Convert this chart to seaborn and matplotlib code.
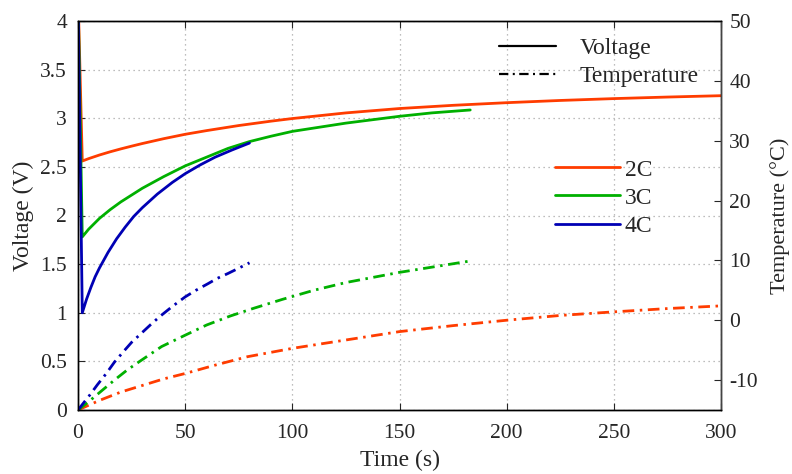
import numpy as np
import pandas as pd
import matplotlib
matplotlib.use('Agg')
import matplotlib.pyplot as plt
import seaborn as sns
from matplotlib.lines import Line2D
from matplotlib.ticker import FuncFormatter

# voltage curves (s, V)
t_v2 = [0, 2, 5, 10, 15, 20, 25, 30, 40, 50, 60, 75, 90, 100, 125, 150, 175, 200, 225, 250, 275, 300]
v_2c = [4.3, 2.56, 2.585, 2.622, 2.655, 2.685, 2.713, 2.74, 2.79, 2.835, 2.873, 2.925, 2.97,
        2.997, 3.055, 3.10, 3.133, 3.16, 3.183, 3.202, 3.218, 3.232]
t_v3 = [0, 2, 5, 10, 15, 20, 25, 30, 40, 50, 60, 70, 80, 90, 100, 125, 150, 165, 183]
v_3c = [4.3, 1.78, 1.86, 1.97, 2.06, 2.14, 2.21, 2.28, 2.40, 2.51, 2.60, 2.69, 2.76, 2.815,
        2.865, 2.95, 3.02, 3.055, 3.085]
t_v4 = [0, 2, 4, 6, 8, 10, 14, 18, 22, 26, 30, 37, 44, 50, 57, 64, 72, 80]
v_4c = [4.3, 1.0, 1.14, 1.26, 1.37, 1.46, 1.62, 1.76, 1.88, 1.99, 2.08, 2.22, 2.34, 2.43,
        2.52, 2.60, 2.675, 2.745]

# temperature curves (s, degC)
t_T2 = [0, 5, 10, 20, 30, 40, 50, 64, 79, 100, 125, 150, 175, 200, 225, 250, 275, 300]
T_2c = [-15, -14.2, -13.4, -12.0, -10.9, -9.8, -8.9, -7.5, -6.1, -4.7, -3.3, -1.9, -0.9,
        0.0, 0.8, 1.4, 1.95, 2.4]
t_T3 = [0, 5, 10, 17, 23, 29.5, 39, 50, 60, 71, 82, 95.5, 110, 125, 150, 183]
T_3c = [-15, -13.6, -12.1, -10.0, -8.3, -6.7, -4.4, -2.5, -0.8, 0.7, 2.0, 3.5, 5.0, 6.3,
        8.0, 9.9]
t_T4 = [0, 5.5, 9, 13.2, 17, 21.8, 25, 29.5, 34, 38.1, 44, 50, 55, 60.6, 65, 69.9, 75, 80]
T_4c = [-15, -12.5, -10.8, -8.9, -7.0, -5.0, -3.7, -2.2, -0.7, 0.6, 2.3, 3.9, 5.0, 6.1,
        7.0, 7.8, 8.7, 9.6]

rates = ['2C', '3C', '4C']
colors = ['#ff3c00', '#00b000', '#0000b4']

sns.set_style('ticks')
plt.rcParams['font.family'] = ['Liberation Serif', 'DejaVu Serif']
plt.rcParams['axes.unicode_minus'] = False

fs = 17
fig = plt.figure(figsize=(7.92, 4.74), dpi=100)
ax = fig.add_axes([78/792, 1-410/474, 643/792, 389/474])
ax2 = ax.twinx()

volt = [(t_v2, v_2c), (t_v3, v_3c), (t_v4, v_4c)]
temp = [(t_T2, T_2c), (t_T3, T_3c), (t_T4, T_4c)]
dashdot = (0, (4.2, 2.0, 0.9, 2.0))

for (tt, vv), c in zip(volt, colors):
    sns.lineplot(x=tt, y=vv, color=c, lw=2.0, ax=ax, errorbar=None, sort=False)
for (tt, TT), c in zip(temp, colors):
    sns.lineplot(x=tt, y=TT, color=c, lw=2.0, ax=ax2, errorbar=None, sort=False,
                 linestyle=dashdot)

ax.set_xlim(0, 300)
ax.set_ylim(0, 4)
ax2.set_ylim(-15, 50)
ax.set_xticks(np.arange(0, 301, 50))
ax.set_yticks(np.arange(0, 4.01, 0.5))
ax2.set_yticks(np.arange(-10, 51, 10))
ax.yaxis.set_major_formatter(FuncFormatter(lambda v, p: '%g' % v))

ax.grid(True, linestyle=(0, (1, 3)), color='#a8a8a8', lw=0.9)
ax.tick_params(axis='x', pad=10)
ax.tick_params(axis='y', pad=8)
ax.tick_params(direction='in', length=5, labelsize=15.5, top=True, right=False)
ax2.tick_params(direction='in', length=5, labelsize=15.5, pad=6)
for a in (ax, ax2):
    for s in a.spines.values():
        s.set_linewidth(1.0)
        s.set_color('black')
ax2.spines['right'].set_color('#444444')

ax.set_xlabel('Time (s)', fontsize=fs, labelpad=5)
ax.set_ylabel('Voltage (V)', fontsize=fs, labelpad=4)
ax2.set_ylabel('Temperature (°C)', fontsize=16, labelpad=9)

style_handles = [Line2D([], [], color='black', lw=1.6, linestyle='-'),
                 Line2D([], [], color='black', lw=1.6, linestyle=dashdot)]
leg1 = ax2.legend(style_handles, ['Voltage', 'Temperature'], loc='upper right',
                  bbox_to_anchor=(0.998, 1.012), frameon=False, fontsize=fs,
                  handlelength=2.4, handletextpad=1.0, labelspacing=0.28)
ax2.add_artist(leg1)

rate_handles = [Line2D([], [], color=c, lw=2.0) for c in colors]
ax2.legend(rate_handles, rates, loc='center left', bbox_to_anchor=(0.709, 0.545),
           frameon=False, fontsize=fs, handlelength=2.75, handletextpad=0.2,
           labelspacing=0.28)

fig.savefig('out.png', dpi=100)
